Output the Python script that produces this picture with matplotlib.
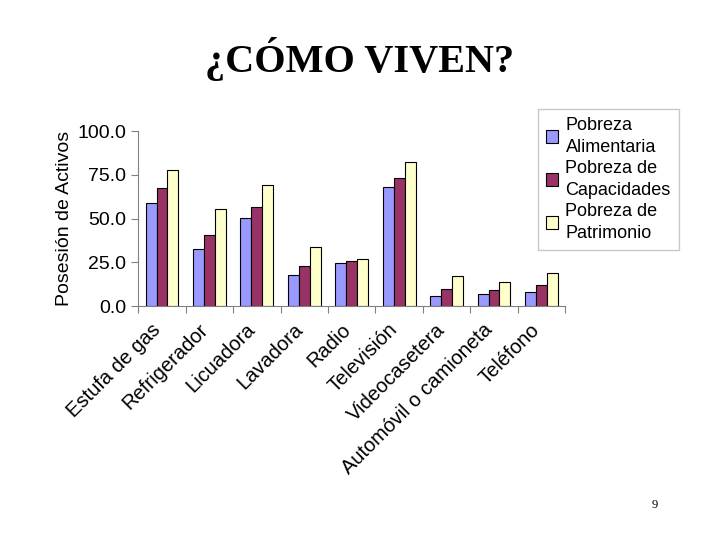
import numpy as np
import matplotlib.pyplot as plt
import matplotlib.transforms as mtransforms

categories = ["Estufa de gas", "Refrigerador", "Licuadora", "Lavadora", "Radio",
              "Televisión", "Videocasetera", "Automóvil o camioneta", "Teléfono"]
alimentaria = [59.2, 32.6, 50.6, 17.9, 24.8, 68.3, 6.1, 7.1, 8.0]
capacidades = [67.4, 40.6, 56.5, 23.1, 25.8, 73.1, 10.1, 9.2, 12.0]
patrimonio = [78.0, 55.5, 69.3, 33.8, 26.7, 82.3, 17.0, 13.9, 18.9]
series_names = ["Pobreza\nAlimentaria", "Pobreza de\nCapacidades", "Pobreza de\nPatrimonio"]
colors = ["#9999FF", "#993366", "#FFFFCC"]

plt.rcParams['font.family'] = ['Liberation Sans', 'DejaVu Sans']

fig = plt.figure(figsize=(7.2, 5.4), dpi=100)
ax = fig.add_axes([0.192, 0.433, 0.593, 0.324])

x = np.arange(len(categories))
w = 0.23
for i, vals in enumerate([alimentaria, capacidades, patrimonio]):
    ax.bar(x + (i - 1) * w, vals, width=w, color=colors[i], edgecolor="black",
           linewidth=0.8, label=series_names[i])

ax.set_xlim(-0.5, len(categories) - 0.5)
ax.set_ylim(0, 100)
ax.set_yticks([0, 25, 50, 75, 100])
ax.set_yticklabels(["0.0", "25.0", "50.0", "75.0", "100.0"], fontsize=14)
ax.set_ylabel("Posesión de Activos", fontsize=14, labelpad=3)

# major ticks sit between categories, labels on minor ticks at the centres
ax.set_xticks(np.arange(len(categories) + 1) - 0.5, minor=False)
ax.set_xticklabels([])
ax.set_xticks(x, minor=True)
ax.set_xticklabels(categories, minor=True, rotation=45, ha="right", va="top",
                   rotation_mode="anchor", fontsize=14.5)
ax.tick_params(axis="x", which="minor", length=0, pad=10)
ax.tick_params(axis="x", which="major", length=5, color="#808080", direction="out")
ax.tick_params(axis="y", length=5, color="#808080", direction="out")

shift = mtransforms.ScaledTranslation(-8 / 72, 0, fig.dpi_scale_trans)
for lbl in ax.get_xticklabels(minor=True):
    lbl.set_transform(lbl.get_transform() + shift)

for s in ["top", "right"]:
    ax.spines[s].set_visible(False)
for s in ["left", "bottom"]:
    ax.spines[s].set_color("#808080")

leg = fig.legend(loc="upper left", bbox_to_anchor=(0.734, 0.815), fontsize=13,
                 frameon=True, fancybox=False, edgecolor="#bbbbbb",
                 handlelength=0.7, handleheight=0.7, handletextpad=0.4,
                 labelspacing=0.25, borderpad=0.45)
for t in leg.get_texts():
    t.set_linespacing(1.35)

fig.text(0.5, 0.89, "¿CÓMO VIVEN?", ha="center", va="center",
         family="Liberation Serif", fontweight="bold", fontsize=29)
fig.text(0.91, 0.065, "9", ha="center", va="center",
         family="Liberation Serif", fontsize=9)

fig.savefig("out.png", dpi=100)
